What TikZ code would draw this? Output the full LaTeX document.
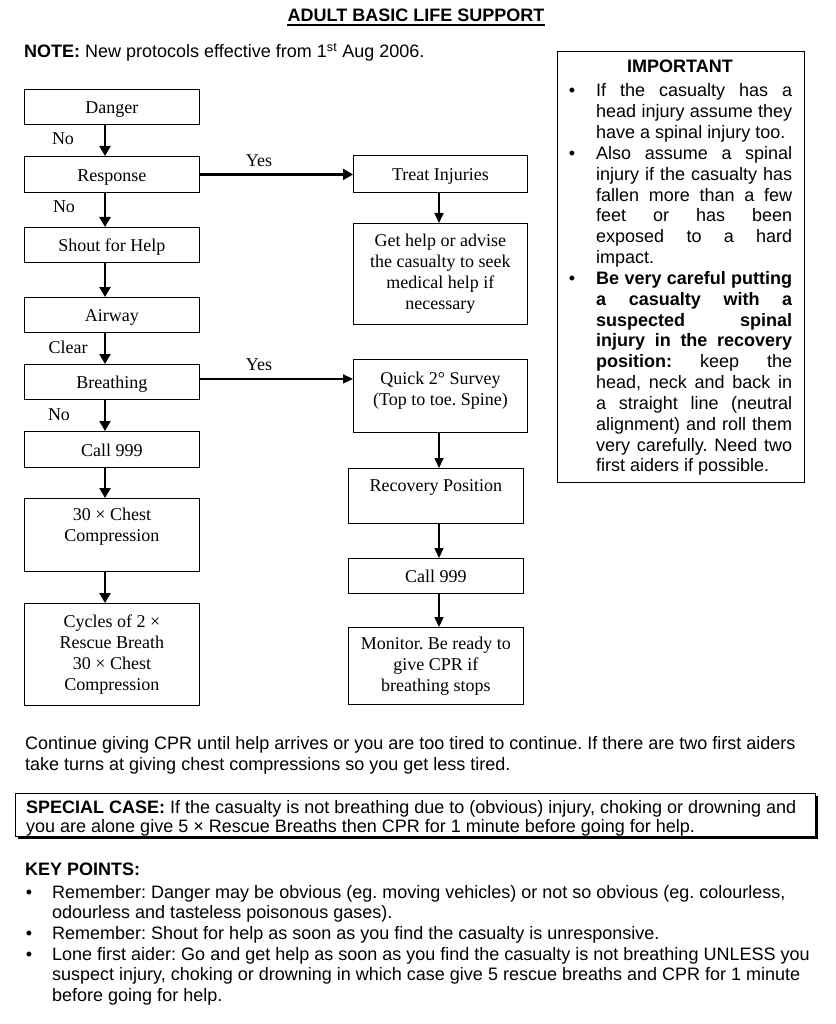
\documentclass[tikz,border=0pt]{standalone}
\usepackage{fontspec}
\setmainfont{Liberation Sans}
\newfontfamily\tnr{Liberation Serif}
\usetikzlibrary{arrows.meta}
\newcommand{\jline}[1]{\hbox{\makebox[196pt][s]{#1}}}
\newcommand{\lline}[1]{\hbox{#1}}
\newcommand{\bline}[2]{\hbox{\llap{•\hspace{#1}}#2}}
\frenchspacing
\begin{document}
\begin{tikzpicture}[x=1pt,y=-1pt,
  box/.style={draw, line width=0.9pt, minimum width=175pt, inner sep=0pt, align=center,
    font=\tnr\fontsize{18}{21}\selectfont, anchor=north west},
  one/.style={text height=15pt, text depth=1pt},
  lbl/.style={font=\tnr\fontsize{18}{21}\selectfont, inner sep=0pt, anchor=base},
  thickarrow/.style={line width=2.8pt, -{Triangle[length=10pt,width=11pt]}},
  thinarrow/.style={line width=1.5pt, -{Triangle[length=10pt,width=9pt]}},
  txt/.style={font=\fontsize{18}{20.8}\selectfont, inner sep=0pt, anchor=base west}]
\fill[white] (0,0) rectangle (835,1024);
\useasboundingbox (0,0) rectangle (835,1024);

% title and note
\node[inner sep=0pt, anchor=base, font=\bfseries\fontsize{18}{21}\selectfont] (title) at (416,22) {ADULT BASIC LIFE SUPPORT};
\draw[line width=1.5pt] ([yshift=-3pt]title.base west) -- ([yshift=-3pt]title.base east);
\node[txt] (note) at (24,58) {\textbf{NOTE:} New protocols effective from 1\textsuperscript{st} Aug 2006.};

% left column
\node[box, one, minimum height=35pt] (danger) at (24,89) {Danger};
\node[box, one, minimum height=36pt] (response) at (24,156) {Response};
\node[box, one, minimum height=35pt] (shout) at (24,227) {Shout for Help};
\node[box, one, minimum height=35pt] (airway) at (24,297) {Airway};
\node[box, one, minimum height=35pt] (breathing) at (24,364) {Breathing};
\node[box, one, minimum height=36pt] (call1) at (24,431) {Call 999};
\node[box, minimum height=73pt] (chest) at (24,498) {30 × Chest\\Compression\\\mbox{}};
\node[box, minimum height=102pt] (cycles) at (24,603) {Cycles of 2 ×\\Rescue Breath\\30 × Chest\\Compression};

% right column
\node[box, one, minimum height=37pt, minimum width=174pt] (treat) at (353,155) {Treat Injuries};
\node[box, minimum height=101pt, minimum width=174pt] (gethelp) at (353,223) {Get help or advise\\the casualty to seek\\medical help if\\necessary};
\node[box, minimum height=73pt, minimum width=174pt] (quick) at (353,359) {Quick 2° Survey\\(Top to toe. Spine)\\[-6pt]\mbox{}};
\node[box, minimum height=55pt] (recovery) at (348,468) {Recovery Position\\\mbox{}};
\node[box, one, minimum height=35pt] (call2) at (348,558) {Call 999};
\node[box, minimum height=77pt] (monitor) at (348,627) {Monitor. Be ready to\\give CPR if\\breathing stops};

\coordinate (lx) at (105,0);
\coordinate (rx) at (439,0);

\draw[thickarrow] (danger.south -| lx) -- (response.north -| lx);
\draw[thickarrow] (response.south -| lx) -- (shout.north -| lx);
\draw[thickarrow] (shout.south -| lx) -- (airway.north -| lx);
\draw[thickarrow] (airway.south -| lx) -- (breathing.north -| lx);
\draw[thickarrow] (breathing.south -| lx) -- (call1.north -| lx);
\draw[thickarrow] (call1.south -| lx) -- (chest.north -| lx);
\draw[thickarrow] (chest.south -| lx) -- (cycles.north -| lx);
\draw[thickarrow] (response.east) -- (response.east -| treat.west);
\draw[thinarrow] ([yshift=3pt]breathing.east) -- ([yshift=3pt]breathing.east -| quick.west);
\draw[thinarrow] (treat.south -| rx) -- (gethelp.north -| rx);
\draw[thinarrow] (quick.south -| rx) -- (recovery.north -| rx);
\draw[thinarrow] (recovery.south -| rx) -- (call2.north -| rx);
\draw[thinarrow] (call2.south -| rx) -- (monitor.north -| rx);

\node[lbl] (no1) at (63,145) {No};
\node[lbl] (no2) at (64,213) {No};
\node[lbl] (clear) at (68,353) {Clear};
\node[lbl] (no3) at (59,420) {No};
\node[lbl] (yes1) at (259,167) {Yes};
\node[lbl] (yes2) at (259,370) {Yes};

% important box
\node[draw, line width=0.9pt, minimum width=247pt, minimum height=431pt, anchor=north west, inner sep=0pt] (imp) at (557,51) {};
\node[inner sep=0pt, anchor=base, font=\bfseries\fontsize{18}{21}\selectfont] (imptitle) at (680,73) {IMPORTANT};
\node[txt] (implist) at (596,97) {\vtop{\baselineskip=20.83pt
 \bline{21pt}{\makebox[196pt][s]{If the casualty has a}}
 \jline{head injury assume they}
 \lline{have a spinal injury too.}
 \bline{21pt}{\makebox[196pt][s]{Also assume a spinal}}
 \jline{injury if the casualty has}
 \jline{fallen more than a few}
 \jline{feet or has been}
 \jline{exposed to a hard}
 \lline{impact.}
 \bline{21pt}{\makebox[196pt][s]{\bfseries Be very careful putting}}
 \jline{\bfseries a casualty with a}
 \jline{\bfseries suspected spinal}
 \jline{\bfseries injury in the recovery}
 \jline{\textbf{position:} keep the}
 \jline{head, neck and back in}
 \jline{a straight line (neutral}
 \jline{alignment) and roll them}
 \jline{very carefully. Need two}
 \lline{first aiders if possible.}}};

% continue text
\node[txt] (cont) at (25,749) {\vtop{\baselineskip=21pt
 \hbox{Continue giving CPR until help arrives or you are too tired to continue. If there are two first aiders}
 \hbox{take turns at giving chest compressions so you get less tired.}}};

% special case
\fill[black] (17.5,795.5) rectangle (817.5,838.5);
\node[draw, fill=white, line width=0.9pt, minimum width=800pt, minimum height=43pt, anchor=north west, inner sep=0pt] (special) at (15,793) {};
\node[txt] (spectext) at (26,813) {\vtop{\baselineskip=19pt
 \hbox{\textbf{SPECIAL CASE:} If the casualty is not breathing due to (obvious) injury, choking or drowning and}
 \hbox{you are alone give 5 × Rescue Breaths then CPR for 1 minute before going for help.}}};

% key points
\node[txt] (keyhead) at (25,875) {\textbf{KEY POINTS:}};
\node[txt] (keylist) at (52,898) {\vtop{\baselineskip=20.7pt
 \bline{20pt}{Remember: Danger may be obvious (eg. moving vehicles) or not so obvious (eg. colourless,}
 \hbox{odourless and tasteless poisonous gases).}
 \bline{20pt}{Remember: Shout for help as soon as you find the casualty is unresponsive.}
 \bline{20pt}{Lone first aider: Go and get help as soon as you find the casualty is not breathing UNLESS you}
 \hbox{suspect injury, choking or drowning in which case give 5 rescue breaths and CPR for 1 minute}
 \hbox{before going for help.}}};
\end{tikzpicture}
\end{document}
